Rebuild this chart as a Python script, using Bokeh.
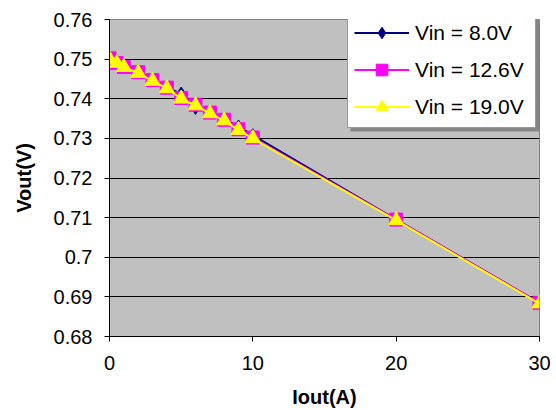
from bokeh.plotting import figure
from bokeh.models import Legend, LegendItem, FixedTicker, CustomJSTickFormatter, Range1d, BoxAnnotation
from bokeh.embed import file_html
from bokeh.resources import INLINE

iout = [0, 0.5, 1, 2, 3, 4, 5, 6, 7, 8, 9, 10, 20, 30]
vout_8v0 = [0.7505, 0.7495, 0.7485, 0.7470, 0.7447, 0.7428, 0.7413, 0.7377, 0.7365, 0.7347, 0.7330, 0.7308, 0.7095, 0.6885]
vout_12v6 = [0.7502, 0.7490, 0.7480, 0.7467, 0.7447, 0.7428, 0.7402, 0.7385, 0.7365, 0.7347, 0.7323, 0.7302, 0.7095, 0.6885]
vout_19v0 = [0.7500, 0.7490, 0.7480, 0.7465, 0.7445, 0.7426, 0.7400, 0.7383, 0.7363, 0.7345, 0.7321, 0.7300, 0.7093, 0.6883]
labels = ["Vin = 8.0V", "Vin = 12.6V", "Vin = 19.0V"]
x_ticks = [0, 10, 20, 30]
y_ticks = [0.68, 0.69, 0.70, 0.71, 0.72, 0.73, 0.74, 0.75, 0.76]

FONT = "Liberation Sans"

p = figure(width=556, height=410, output_backend="svg", toolbar_location=None,
           x_range=Range1d(0, 30), y_range=Range1d(0.68, 0.76),
           min_border_left=109, min_border_right=17, min_border_top=19, min_border_bottom=71)
p.background_fill_color = "#C0C0C0"
p.border_fill_color = "white"
p.outline_line_color = "#808080"
p.outline_line_width = 1

p.xgrid.grid_line_color = None
p.ygrid.grid_line_color = "black"
p.ygrid.grid_line_width = 1

for ax in (p.xaxis, p.yaxis):
    ax.axis_line_color = "black"
    ax.major_tick_line_color = "black"
    ax.major_tick_out = 5
    ax.major_tick_in = 0
    ax.minor_tick_line_color = None
    ax.major_label_text_font = FONT
    ax.major_label_text_font_size = "20px"
    ax.major_label_text_color = "black"
    ax.axis_label_text_font = FONT
    ax.axis_label_text_font_size = "20px"
    ax.axis_label_text_font_style = "bold"
    ax.axis_label_text_color = "black"

p.xaxis.ticker = FixedTicker(ticks=x_ticks)
p.yaxis.ticker = FixedTicker(ticks=y_ticks)
p.yaxis.formatter = CustomJSTickFormatter(code="return Number(tick.toFixed(2)).toString();")
p.xaxis.axis_label = "Iout(A)"
p.yaxis.axis_label = "Vout(V)"
p.xaxis.major_label_standoff = 14
p.yaxis.major_label_standoff = 12
p.xaxis.axis_label_standoff = 13
p.yaxis.axis_label_standoff = 16

items = []
l1 = p.line(iout, vout_8v0, line_color="#000080", line_width=2)
m1 = p.scatter(iout, vout_8v0, marker="diamond", size=13, fill_color="#000080", line_color="#000080")
items.append(LegendItem(label=labels[0], renderers=[l1, m1]))
l2 = p.line(iout, vout_12v6, line_color="#FF00FF", line_width=2)
m2 = p.scatter(iout, vout_12v6, marker="square", size=13, fill_color="#FF00FF", line_color="#FF00FF")
items.append(LegendItem(label=labels[1], renderers=[l2, m2]))
l3 = p.line(iout, vout_19v0, line_color="#FFFF00", line_width=2)
m3 = p.scatter(iout, vout_19v0, marker="triangle", size=15, fill_color="#FFFF00", line_color="#FFFF00")
items.append(LegendItem(label=labels[2], renderers=[l3, m3]))

# legend drop shadow (screen units, relative to the plot frame)
shadow = BoxAnnotation(left=241, right=430, top=319, bottom=205,
                       left_units="screen", right_units="screen",
                       top_units="screen", bottom_units="screen",
                       fill_color="#858585", fill_alpha=1, line_color=None)
p.add_layout(shadow)

legend = Legend(items=items, location=(238, 208), orientation="vertical")
legend.label_text_font = FONT
legend.label_text_font_size = "21px"
legend.label_text_color = "black"
legend.glyph_width = 55
legend.glyph_height = 29
legend.label_height = 20
legend.label_width = 114
legend.spacing = 8
legend.padding = 6
legend.margin = 0
legend.label_standoff = 6
legend.border_line_color = "#333333"
legend.border_line_width = 1
legend.background_fill_color = "white"
legend.background_fill_alpha = 1
p.add_layout(legend, "center")

open("out.html", "w").write(file_html(p, INLINE))
